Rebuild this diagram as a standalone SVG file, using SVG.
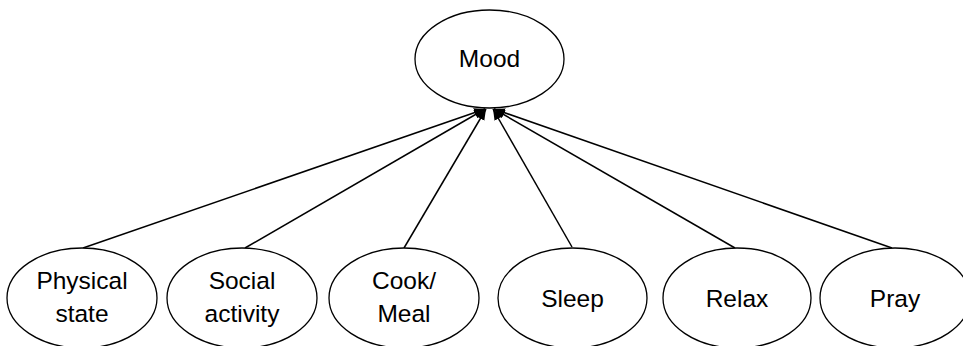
<svg xmlns="http://www.w3.org/2000/svg" width="963" height="346" viewBox="0 0 963 346">
<style>
.node ellipse{fill:#fff;stroke:#000;stroke-width:1.3}
.node text{font-family:"Liberation Sans",Arial,sans-serif;font-size:24.5px;fill:#000;text-anchor:middle}
.edge{stroke:#000;stroke-width:1.5;fill:none;marker-end:url(#arr)}
</style>
<defs>
<marker id="arr" markerUnits="userSpaceOnUse" markerWidth="14" markerHeight="12" refX="11" refY="4.5" orient="auto">
<path d="M0,0 L11,4.5 L0,9 Z" fill="#000"/>
</marker>
</defs>
<rect width="963" height="346" fill="#fff"/>
<g id="connectors">
<line class="edge" x1="83" y1="248" x2="485" y2="109"/>
<line class="edge" x1="245" y1="248" x2="485" y2="109"/>
<line class="edge" x1="404" y1="248" x2="486" y2="109"/>
<line class="edge" x1="572" y1="247" x2="493" y2="109"/>
<line class="edge" x1="735" y1="248" x2="494" y2="109"/>
<line class="edge" x1="892" y1="248" x2="494" y2="109"/>
</g>
<g id="mood" class="node"><ellipse cx="489.5" cy="59" rx="74.5" ry="49"/><text x="489.5" y="67">Mood</text></g>
<g id="physical" class="node"><ellipse cx="82" cy="298" rx="75" ry="50"/><text x="82" y="289">Physical</text><text x="82" y="322">state</text></g>
<g id="social" class="node"><ellipse cx="242" cy="298" rx="75" ry="50"/><text x="242" y="289">Social</text><text x="242" y="322">activity</text></g>
<g id="cook" class="node"><ellipse cx="404" cy="298" rx="75" ry="50"/><text x="404" y="289">Cook/</text><text x="404" y="322">Meal</text></g>
<g id="sleep" class="node"><ellipse cx="572.5" cy="298" rx="74.5" ry="50"/><text x="572.5" y="307">Sleep</text></g>
<g id="relax" class="node"><ellipse cx="737" cy="298" rx="74" ry="50"/><text x="737" y="307">Relax</text></g>
<g id="pray" class="node"><ellipse cx="895" cy="298" rx="75" ry="50"/><text x="895" y="307">Pray</text></g>
</svg>
